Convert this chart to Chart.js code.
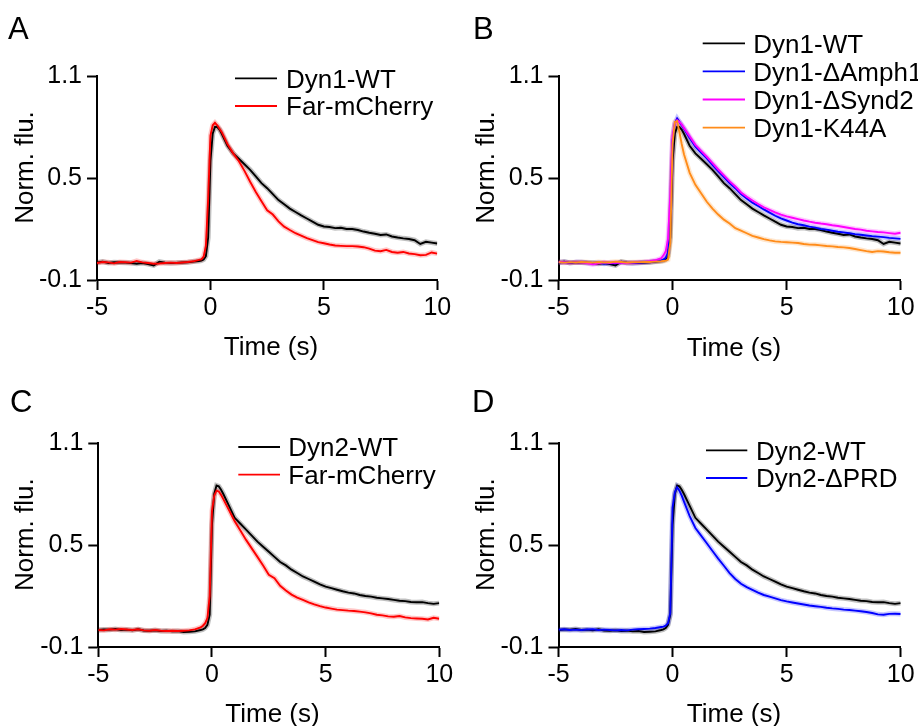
<!DOCTYPE html>
<html><head><meta charset="utf-8">
<script src="https://cdn.jsdelivr.net/npm/chart.js@4.4.0/dist/chart.umd.min.js"></script>
<style>
html,body{margin:0;padding:0;background:#fff;}
#wrap{position:relative;width:918px;height:726px;overflow:hidden;background:#fff;}
.p{position:absolute;width:459px;height:363px;}
canvas{display:block;}
</style></head><body>
<div id="wrap">
<div class="p" style="left:0;top:0"><canvas id="cA" width="459" height="363"></canvas></div>
<div class="p" style="left:459px;top:0"><canvas id="cB" width="459" height="363"></canvas></div>
<div class="p" style="left:0;top:363px"><canvas id="cC" width="459" height="363"></canvas></div>
<div class="p" style="left:459px;top:363px"><canvas id="cD" width="459" height="363"></canvas></div>
</div>
<script>
// ---- data ----
const time = [-5,-4.75,-4.5,-4.25,-4,-3.75,-3.5,-3.25,-3,-2.75,-2.5,-2.25,-2,-1.75,-1.5,-1.25,-1,-0.75,-0.5,
 -0.4,-0.3,-0.2,-0.1,0,0.1,0.2,0.3,0.4,0.5,
 0.75,1,1.25,1.5,1.75,2,2.25,2.5,2.75,3,3.25,3.5,3.75,4,4.25,4.5,4.75,5,5.25,5.5,5.75,6,6.25,6.5,6.75,7,7.25,7.5,7.75,8,8.25,8.5,8.75,9,9.25,9.5,9.75,10];

const dyn1WT = [0.003,0.008,0.0,0.004,0.003,0.002,0.0,-0.004,0.0,-0.006,-0.014,0.008,0.002,0.0,0.001,0.003,0.004,0.008,0.012,
 0.014,0.02,0.04,0.15,0.6,0.76,0.8,0.8,0.785,0.76,
 0.69,0.645,0.613,0.581,0.548,0.51,0.47,0.44,0.405,0.37,0.345,0.32,0.3,0.28,0.262,0.243,0.225,0.215,0.212,0.205,0.207,0.2,0.2,0.194,0.185,0.178,0.172,0.165,0.168,0.156,0.15,0.145,0.141,0.134,0.112,0.125,0.12,0.115];

const farMCherryA = [0.0,0.006,0.004,-0.002,0.006,0.004,0.002,0.012,0.004,0.0,-0.004,-0.003,0.0,0.002,0.0,0.003,0.006,0.01,0.018,
 0.021,0.037,0.1,0.38,0.75,0.81,0.825,0.81,0.79,0.77,
 0.70,0.645,0.6,0.542,0.478,0.418,0.363,0.31,0.285,0.245,0.214,0.194,0.175,0.161,0.146,0.135,0.123,0.116,0.109,0.103,0.101,0.099,0.099,0.097,0.093,0.085,0.073,0.069,0.077,0.065,0.06,0.065,0.056,0.052,0.046,0.048,0.062,0.055];

const dyn1Amph1 = [0.002,0.005,0.003,0.004,0.006,0.002,0.0,0.003,-0.004,0.0,-0.002,0.004,0.002,0.0,0.002,0.004,0.006,0.01,0.015,
 0.02,0.03,0.06,0.25,0.72,0.82,0.85,0.83,0.81,0.79,
 0.735,0.685,0.65,0.615,0.578,0.54,0.505,0.47,0.44,0.405,0.38,0.355,0.335,0.315,0.296,0.278,0.262,0.25,0.238,0.228,0.222,0.214,0.208,0.2,0.196,0.19,0.184,0.18,0.175,0.17,0.166,0.162,0.158,0.155,0.152,0.148,0.145,0.142];

const dyn1Synd2 = [0.006,0.004,0.002,0.005,0.003,0.0,-0.008,-0.002,0.004,0.0,0.003,0.001,0.0,0.002,0.004,0.006,0.01,0.016,0.028,
 0.045,0.07,0.14,0.4,0.75,0.82,0.84,0.83,0.815,0.795,
 0.745,0.695,0.66,0.625,0.588,0.55,0.515,0.48,0.45,0.415,0.39,0.368,0.347,0.328,0.312,0.298,0.285,0.274,0.266,0.258,0.25,0.243,0.237,0.232,0.228,0.222,0.218,0.212,0.206,0.2,0.196,0.19,0.186,0.182,0.18,0.176,0.172,0.178];

const dyn1K44A = [0.004,0.002,0.005,0.003,0.006,0.004,0.002,0.006,0.003,0.004,0.008,0.006,0.003,0.004,0.005,0.006,0.006,0.008,0.01,
 0.012,0.014,0.02,0.12,0.7,0.83,0.835,0.77,0.7,0.64,
 0.53,0.46,0.41,0.36,0.32,0.285,0.255,0.232,0.205,0.19,0.175,0.16,0.15,0.14,0.133,0.127,0.124,0.122,0.12,0.118,0.112,0.108,0.107,0.104,0.1,0.098,0.094,0.092,0.088,0.082,0.076,0.07,0.065,0.07,0.068,0.063,0.06,0.06];

const dyn2WT = [0.0,0.003,0.002,0.006,0.0,0.002,-0.002,0.004,-0.003,-0.004,-0.002,-0.006,-0.004,-0.008,-0.006,-0.012,-0.01,-0.008,0.0,
 0.004,0.012,0.03,0.09,0.62,0.8,0.85,0.845,0.825,0.8,
 0.73,0.66,0.625,0.59,0.555,0.52,0.49,0.46,0.43,0.4,0.38,0.355,0.335,0.315,0.3,0.284,0.268,0.255,0.246,0.237,0.228,0.22,0.215,0.206,0.2,0.196,0.19,0.186,0.182,0.177,0.172,0.17,0.165,0.163,0.164,0.158,0.154,0.158];

const farMCherryC = [0.0,-0.002,0.004,0.002,0.006,0.003,0.0,0.004,-0.002,-0.004,0.0,-0.004,-0.006,-0.004,-0.006,-0.004,-0.002,0.004,0.015,
 0.025,0.04,0.07,0.2,0.7,0.79,0.82,0.815,0.795,0.77,
 0.705,0.64,0.585,0.53,0.48,0.43,0.38,0.325,0.305,0.26,0.232,0.208,0.19,0.177,0.163,0.151,0.14,0.132,0.126,0.12,0.117,0.114,0.112,0.108,0.104,0.098,0.09,0.086,0.08,0.078,0.082,0.074,0.07,0.068,0.066,0.062,0.072,0.066];

const dyn2dPRD = [0.002,0.004,0.0,0.002,0.0,0.003,0.004,0.0,0.002,0.0,-0.002,0.0,-0.002,0.002,0.004,0.006,0.008,0.012,0.018,
 0.02,0.025,0.04,0.1,0.72,0.81,0.84,0.82,0.79,0.755,
 0.67,0.6,0.555,0.51,0.465,0.42,0.378,0.335,0.3,0.272,0.252,0.236,0.22,0.206,0.196,0.186,0.176,0.168,0.162,0.156,0.15,0.144,0.14,0.136,0.131,0.127,0.124,0.12,0.118,0.114,0.11,0.106,0.1,0.092,0.09,0.095,0.096,0.094];

const xTicks = [-5, 0, 5, 10];
const xTickLabels = ['-5', '0', '5', '10'];
const yTicks = [-0.1, 0.5, 1.1];
const yTickLabels = ['-0.1', '0.5', '1.1'];
const xTitle = 'Time (s)';
const yTitle = 'Norm. flu.';
const panelLetters = ['A', 'B', 'C', 'D'];

// ---- rendering ----
const FONT = '"Liberation Sans", Arial, Helvetica, sans-serif';
const W = 459, H = 363;
const COLORS = {
  black: ['#000000', 'rgba(0,0,0,0.25)'],
  red: ['#ff0000', 'rgba(255,0,0,0.22)'],
  blue: ['#0000ff', 'rgba(0,0,255,0.22)'],
  magenta: ['#ff00ff', 'rgba(255,0,255,0.22)'],
  orange: ['#ff8c1a', 'rgba(255,140,26,0.22)']
};

const deco = {
  id: 'deco',
  afterDraw(chart, args, o) {
    const ctx = chart.ctx;
    ctx.save();
    ctx.fillStyle = '#000';
    ctx.font = '31px ' + FONT;
    ctx.textAlign = 'left';
    ctx.textBaseline = 'alphabetic';
    ctx.fillText(o.letter, o.letterX, o.letterY);
    ctx.font = '26px ' + FONT;
    ctx.save();
    ctx.translate(o.yTitleX, o.yTitleY);
    ctx.rotate(-Math.PI / 2);
    ctx.textAlign = 'center';
    ctx.fillText(yTitle, 0, 0);
    ctx.restore();
    ctx.textAlign = 'center';
    ctx.fillText(xTitle, o.xTitleX, o.xTitleY);
    ctx.textAlign = 'left';
    let row = 0;
    chart.data.datasets.forEach(ds => {
      if (!ds.label) return;
      const y = o.legY + row * o.legStep;
      ctx.strokeStyle = ds.borderColor;
      ctx.lineWidth = 1.8;
      ctx.beginPath();
      ctx.moveTo(o.legX1, y);
      ctx.lineTo(o.legX2, y);
      ctx.stroke();
      ctx.fillStyle = '#000';
      ctx.fillText(ds.label, o.legTextX, y + 9.3);
      row++;
    });
    ctx.restore();
  }
};

function makePanel(id, series, box, d) {
  const datasets = [];
  const n = series.length;
  series.forEach((s, i) => {
    const pts = time.map((t, k) => ({x: t, y: s.values[k]}));
    datasets.push({label: s.label, data: pts, borderColor: COLORS[s.color][0], borderWidth: 1.9,
      pointRadius: 0, tension: 0, order: n - i});
  });
  series.forEach((s, i) => {
    const pts = time.map((t, k) => ({x: t, y: s.values[k]}));
    datasets.push({label: '', data: pts, borderColor: COLORS[s.color][1], borderWidth: 5,
      pointRadius: 0, tension: 0, order: 20 + n - i});
  });
  const tickFont = {family: FONT, size: 25};
  const axisCommon = {
    grid: {display: true, drawOnChartArea: false, drawTicks: true, tickLength: 10, tickWidth: 2, color: '#000'},
    border: {display: true, width: 2, color: '#000'}
  };
  new Chart(document.getElementById(id), {
    type: 'line',
    data: {datasets},
    plugins: [deco],
    options: {
      responsive: false, maintainAspectRatio: false, animation: false, devicePixelRatio: 1,
      layout: {padding: {left: 0, top: box.top, right: W - box.right, bottom: 0}},
      plugins: {legend: {display: false}, tooltip: {enabled: false}, deco: d},
      elements: {point: {radius: 0}},
      scales: {
        x: Object.assign({
          type: 'linear', min: xTicks[0], max: xTicks[xTicks.length - 1],
          afterBuildTicks: s => { s.ticks = xTicks.map(v => ({value: v})); },
          afterFit: s => { s.height = H - box.bottom; },
          ticks: {font: tickFont, color: '#000', padding: 3, maxRotation: 0, autoSkip: false,
            callback: (v, i) => xTickLabels[i]}
        }, axisCommon),
        y: Object.assign({
          type: 'linear', min: yTicks[0], max: yTicks[yTicks.length - 1],
          afterBuildTicks: s => { s.ticks = yTicks.map(v => ({value: v})); },
          afterFit: s => { s.width = box.left; },
          ticks: {font: tickFont, color: '#000', padding: 5, autoSkip: false,
            callback: (v, i) => yTickLabels[i]}
        }, axisCommon)
      }
    }
  });
}

makePanel('cA', [
  {label: 'Dyn1-WT', values: dyn1WT, color: 'black'},
  {label: 'Far-mCherry', values: farMCherryA, color: 'red'}
], {left: 97, right: 437.3, top: 76, bottom: 280},
{letter: panelLetters[0], letterX: 8, letterY: 39, yTitleX: 33, yTitleY: 167.5, xTitleX: 271, xTitleY: 355,
 legX1: 235, legX2: 277, legTextX: 286, legY: 78.3, legStep: 27.7});

makePanel('cB', [
  {label: 'Dyn1-WT', values: dyn1WT, color: 'black'},
  {label: 'Dyn1-\u0394Amph1', values: dyn1Amph1, color: 'blue'},
  {label: 'Dyn1-\u0394Synd2', values: dyn1Synd2, color: 'magenta'},
  {label: 'Dyn1-K44A', values: dyn1K44A, color: 'orange'}
], {left: 99.5, right: 441.7, top: 76, bottom: 280},
{letter: panelLetters[1], letterX: 14, letterY: 39, yTitleX: 34.5, yTitleY: 167.5, xTitleX: 275, xTitleY: 356,
 legX1: 243.7, legX2: 286, legTextX: 294.3, legY: 43.3, legStep: 28.1});

makePanel('cC', [
  {label: 'Dyn2-WT', values: dyn2WT, color: 'black'},
  {label: 'Far-mCherry', values: farMCherryC, color: 'red'}
], {left: 98.3, right: 439.3, top: 80, bottom: 284},
{letter: panelLetters[2], letterX: 10, letterY: 49, yTitleX: 33, yTitleY: 171.7, xTitleX: 272.5, xTitleY: 358.6,
 legX1: 238.3, legX2: 280, legTextX: 288.3, legY: 84, legStep: 27.7});

makePanel('cD', [
  {label: 'Dyn2-WT', values: dyn2WT, color: 'black'},
  {label: 'Dyn2-\u0394PRD', values: dyn2dPRD, color: 'blue'}
], {left: 99.5, right: 441.7, top: 80, bottom: 284},
{letter: panelLetters[3], letterX: 13, letterY: 49, yTitleX: 34.5, yTitleY: 171.7, xTitleX: 275, xTitleY: 359,
 legX1: 247, legX2: 288.3, legTextX: 297, legY: 87.3, legStep: 27.7});
</script>
</body></html>
